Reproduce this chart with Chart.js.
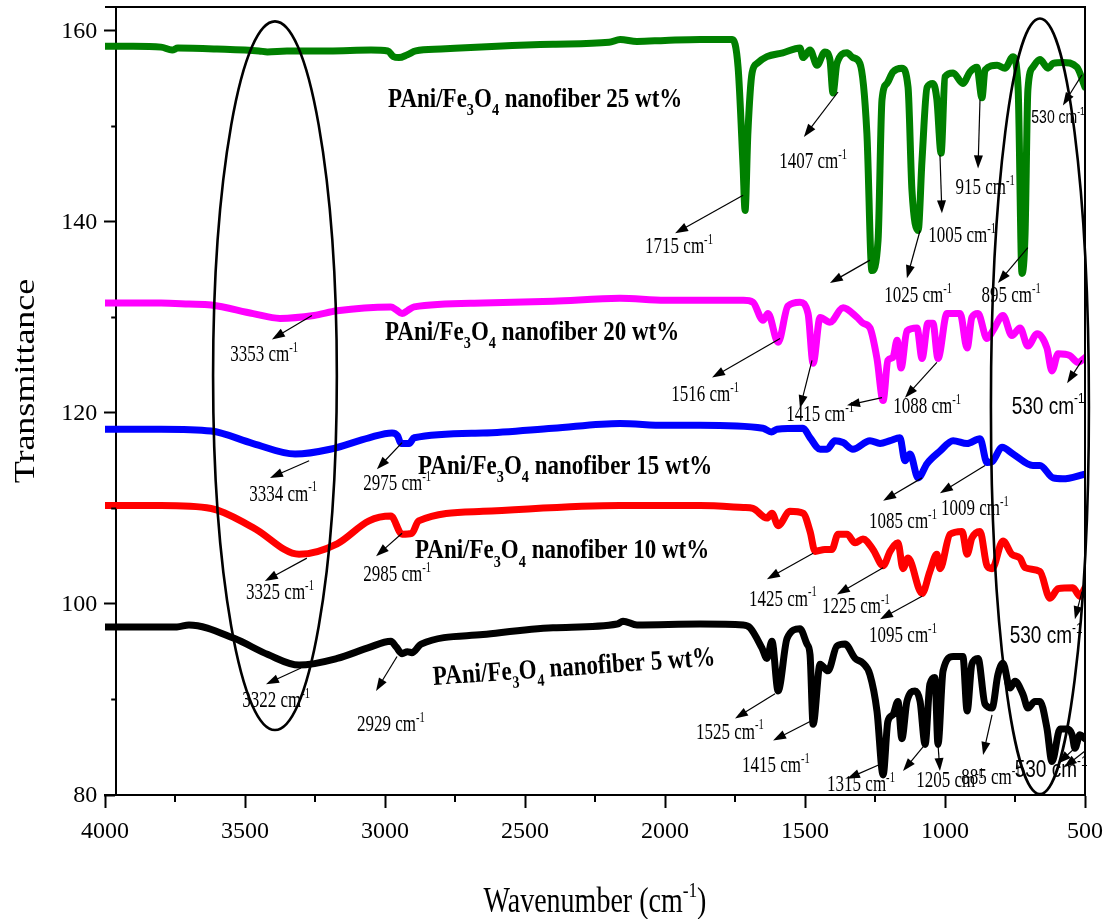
<!DOCTYPE html>
<html>
<head>
<meta charset="utf-8">
<script src="https://cdn.jsdelivr.net/npm/chart.js@4.4.1/dist/chart.umd.min.js"></script>
<style>
  html, body { margin: 0; padding: 0; background: #fff; }
</style>
</head>
<body>
<canvas id="ftir" width="1113" height="919"></canvas>
<script>
// ---- spectra: wavenumber (cm-1) / transmittance ----
const wn25 = [4000, 3900, 3800, 3760, 3740, 3600, 3450, 3420, 3350, 3200, 3050, 2990, 2970, 2950, 2920, 2890, 2800, 2600, 2400, 2200, 2160, 2100, 2000, 1875, 1760,
  1739, 1721, 1714, 1704, 1689, 1671, 1636, 1579, 1518, 1507, 1482, 1457, 1429, 1411, 1400, 1386, 1350, 1329, 1304, 1279, 1261, 1239, 1225, 1207, 1186, 1154, 1132, 1118,
  1096, 1082, 1064, 1043, 1029, 1014, 1000, 971, 936, 911, 886, 868, 857, 814, 786, 757, 739, 725, 714, 704, 686, 661, 632, 614, 579, 529, 500];
const tr25 = [158.4, 158.4, 158.3, 158.0, 158.2, 158.1, 157.9, 157.8, 157.9, 157.9, 158.0, 157.9, 157.3, 157.2, 157.5, 157.9, 158.1, 158.4, 158.6, 158.8, 159.1, 158.9, 159.0, 159.1, 159.1,
  156.2, 145.7, 141.2, 149.3, 155.6, 156.6, 157.3, 157.7, 158.2, 157.2, 158.0, 156.4, 157.8, 157.0, 153.5, 156.6, 157.7, 157.2, 156.6, 149.3, 134.9, 138.1, 152.8, 154.5, 155.7, 156.1, 154.1, 143.3,
  139.1, 146.5, 154.1, 154.5, 152.8, 147.2, 155.2, 155.6, 154.5, 155.7, 156.2, 153.0, 155.9, 156.4, 156.1, 157.3, 154.1, 134.6, 138.8, 153.8, 156.2, 157.0, 156.1, 156.6, 156.7, 156.2, 154.1];

const wn20 = [4000, 3800, 3700, 3621, 3471, 3375, 3254, 3171, 2979, 2960, 2939, 2920, 2896, 2650, 2400, 2161, 2000, 1875, 1720,
  1686, 1650, 1632, 1596, 1561, 1518, 1489, 1471, 1446, 1411, 1364, 1314, 1293, 1268, 1243, 1221, 1204, 1186, 1171, 1157, 1136, 1100,
  1082, 1061, 1043, 1025, 993, 946, 921, 904, 882, 850, 829, 793, 761, 732, 704, 671, 636, 618, 596, 554, 525, 500];
const tr20 = [131.5, 131.5, 131.4, 131.3, 130.4, 129.9, 130.2, 130.7, 131.1, 130.8, 130.4, 130.7, 131.1, 131.5, 131.7, 132.0, 131.8, 131.8, 131.8,
  131.6, 129.7, 130.4, 127.4, 131.2, 131.6, 130.4, 125.2, 130.0, 129.5, 131.0, 130.0, 129.4, 128.9, 125.7, 121.3, 125.5, 125.8, 127.6, 124.7, 128.6, 128.9,
  125.7, 129.4, 129.4, 125.7, 130.4, 130.4, 126.8, 130.0, 130.4, 127.8, 128.6, 130.2, 128.1, 128.9, 127.0, 128.3, 126.8, 124.4, 126.2, 126.0, 125.3, 125.8];

const wn15 = [4000, 3800, 3621, 3471, 3321, 3196, 3057, 2975, 2955, 2943, 2914, 2896, 2650, 2400, 2161, 2000, 1875, 1650, 1620, 1600,
  1507, 1482, 1446, 1421, 1393, 1364, 1329, 1268, 1232, 1196, 1161, 1143, 1125, 1096, 1064, 1018, 971, 921, 875, 850, 832, 796, 757, 686, 661, 614, 579, 500];
const tr15 = [118.3, 118.3, 118.1, 116.8, 115.7, 116.2, 117.4, 117.9, 117.6, 116.8, 116.8, 117.4, 117.9, 118.4, 118.9, 118.7, 118.7, 118.4, 118.0, 118.3,
  118.4, 117.4, 116.2, 116.2, 117.1, 116.9, 116.2, 117.1, 116.8, 117.1, 117.4, 115.0, 115.7, 113.2, 114.7, 116.0, 117.1, 116.8, 117.3, 114.8, 114.9, 116.4, 115.7, 114.5, 114.5, 113.2, 113.1, 113.6];

const wn10 = [4000, 3800, 3621, 3471, 3307, 3171, 3057, 2979, 2939, 2904, 2880, 2650, 2161, 1875, 1720,
  1686, 1636, 1618, 1596, 1554, 1507, 1482, 1464, 1429, 1404, 1382, 1350, 1321, 1293, 1257, 1221, 1196, 1168, 1150, 1132, 1082,
  1054, 1029, 1018, 982, 939, 921, 904, 875, 850, 832, 793, 761, 732, 714, 661, 625, 596, 543, 518, 500];
const tr10 = [110.3, 110.3, 110.0, 108.0, 105.2, 106.3, 108.7, 109.2, 107.3, 107.4, 108.7, 109.7, 110.3, 110.3, 110.1,
  110.0, 109.0, 109.5, 108.2, 109.7, 109.5, 107.6, 105.5, 105.7, 105.7, 107.3, 107.3, 106.4, 106.8, 105.7, 104.0, 105.5, 106.4, 103.7, 104.8, 101.1,
  103.4, 105.2, 103.7, 107.3, 107.6, 105.2, 106.9, 107.6, 104.0, 103.7, 106.6, 105.2, 104.8, 103.8, 103.4, 100.6, 101.6, 101.7, 100.8, 101.7];

const wn5 = [4000, 3743, 3700, 3539, 3418, 3307, 3171, 3061, 2979, 2960, 2939, 2920, 2904, 2871, 2650, 2400, 2170, 2150, 2100, 1875, 1720,
  1696, 1654, 1636, 1618, 1596, 1564, 1518, 1493, 1482, 1471, 1446, 1418, 1386, 1357, 1321, 1293, 1268, 1243, 1221, 1204, 1186, 1168, 1154, 1136,
  1107, 1089, 1071, 1054, 1036, 1025, 1007, 971, 936, 921, 904, 882, 857, 832, 811, 793, 768, 750, 721, 704, 679, 661, 636, 618, 589, 564, 546, 536, 518, 500];
const tr5 = [97.6, 97.6, 97.8, 96.4, 94.7, 93.6, 94.3, 95.4, 96.1, 95.5, 94.8, 95.0, 94.9, 95.8, 96.8, 97.5, 97.9, 98.2, 97.8, 97.9, 97.8,
  97.5, 95.4, 94.3, 96.1, 90.9, 96.4, 97.4, 95.8, 94.7, 87.4, 93.7, 93.0, 95.6, 95.8, 94.3, 93.8, 92.6, 88.8, 82.1, 87.7, 88.4, 89.8, 85.9, 89.8,
  90.9, 89.8, 85.3, 91.6, 92.3, 85.3, 93.0, 94.5, 94.5, 88.8, 93.7, 94.3, 89.5, 89.1, 92.6, 93.8, 91.2, 91.9, 90.5, 89.1, 89.8, 89.8, 87.0, 83.5, 86.9, 86.9, 86.3, 84.9, 86.3, 85.9];

const xTicks = [4000, 3500, 3000, 2500, 2000, 1500, 1000, 500];
const yTicks = [80, 100, 120, 140, 160];

// ---- annotations, placed in data units (wavenumber, transmittance) ----
const seriesNotes = [
  ['PAni/Fe_{3}O_{4} nanofiber 25 wt%', 2989, 153.0, 0],
  ['PAni/Fe_{3}O_{4} nanofiber 20 wt%', 3000, 128.6, 0],
  ['PAni/Fe_{3}O_{4} nanofiber 15 wt%', 2882, 114.6, 0],
  ['PAni/Fe_{3}O_{4} nanofiber 10 wt%', 2893, 105.75, 0],
  ['PAni/Fe_{3}O_{4} nanofiber 5 wt%', 2829, 92.5, -4]
];

const peakNotes = [
  ['1715', 1950, 137.5], ['1407', 1471, 146.4], ['1025', 1096, 132.4], ['1005', 939, 138.7],
  ['915', 857, 143.7], ['895', 764, 132.4], ['3353', 3432, 126.2], ['3334', 3364, 111.6],
  ['2975', 2957, 112.7], ['1516', 1857, 122.0], ['1415', 1446, 119.9], ['1088', 1064, 120.8],
  ['1085', 1150, 108.7], ['1009', 893, 110.1], ['3325', 3375, 101.3], ['2985', 2957, 103.2],
  ['1425', 1579, 100.6], ['1225', 1318, 99.8], ['1095', 1150, 96.8], ['3322', 3389, 90.0],
  ['2929', 2979, 87.5], ['1525', 1768, 86.7], ['1415', 1604, 83.2], ['1315', 1300, 81.2],
  ['1205', 982, 81.6], ['885', 836, 81.9]
];

// the 530 cm-1 notes are set in a sans face; the first one is smaller
const feNotes = [[596, 151.0, 14], [632, 120.8, 19], [639, 96.8, 19], [621, 82.8, 19]];

// [from wn, from T, to wn, to T] -- arrowhead at "to"
const arrows = [
  [1721, 142.8, 1964, 138.8], [1382, 153.6, 1504, 148.9], [1268, 136.0, 1411, 133.6], [1089, 139.1, 1136, 134.1],
  [1018, 147.0, 1011, 140.9], [875, 152.8, 882, 145.6], [704, 137.3, 811, 133.6], [511, 155.4, 579, 152.2],
  [3261, 130.2, 3404, 127.7], [3271, 115.0, 3411, 113.2], [2939, 116.9, 3029, 114.1], [1589, 127.8, 1832, 123.7],
  [1475, 125.5, 1518, 120.5], [1225, 121.6, 1350, 120.8], [1029, 125.3, 1143, 121.6], [511, 125.5, 564, 123.1],
  [1082, 113.2, 1221, 110.8], [857, 114.5, 1018, 111.6], [3279, 104.8, 3429, 102.4], [2939, 107.4, 3032, 105.0],
  [1471, 105.3, 1636, 102.6], [1221, 103.8, 1386, 101.0], [1082, 100.8, 1232, 98.4], [511, 101.3, 536, 98.4],
  [3300, 93.3, 3425, 91.6], [2957, 94.5, 3032, 90.9], [1607, 90.6, 1750, 88.0], [1482, 87.7, 1614, 85.7],
  [1225, 83.3, 1350, 81.7], [1071, 85.3, 1150, 82.5], [1025, 85.3, 1018, 82.5], [832, 88.4, 864, 84.2],
  [518, 85.4, 596, 83.3], [500, 84.6, 575, 82.9]
];

// [centre wn, centre T, half-width wn, half-height T]
const ellipses = [[3393, 123.9, 221, 37.1], [661, 120.7, 175, 40.6]];

const SERIF = '"Liberation Serif", "Times New Roman", serif';
const SANS = '"Liberation Sans", Arial, sans-serif';
const Y_AXIS_AT = 3960;   // the left axis sits a little inside the 4000 tick

function pts(xs, ys) {
  return xs.map((x, i) => ({ x, y: ys[i] }));
}

// splits "Fe_{3}O_{4}" / "cm^{-1}" into normal / sub / sup runs
function richParts(str) {
  const parts = [];
  const re = /([_^])\{([^}]*)\}/g;
  let last = 0, m;
  while ((m = re.exec(str))) {
    if (m.index > last) parts.push({ t: str.slice(last, m.index), k: '' });
    parts.push({ t: m[2], k: m[1] });
    last = re.lastIndex;
  }
  if (last < str.length) parts.push({ t: str.slice(last), k: '' });
  return parts;
}

function drawRich(ctx, str, x, y, o) {
  const parts = richParts(str);
  const font = s => `${o.weight || 'normal'} ${s}px ${o.family}`;
  const small = o.size * 0.62;
  let w = 0;
  parts.forEach(p => {
    ctx.font = font(p.k ? small : o.size);
    p.w = ctx.measureText(p.t).width;
    w += p.w;
  });
  ctx.save();
  ctx.translate(x, y);
  if (o.rot) ctx.rotate(o.rot * Math.PI / 180);
  ctx.scale(o.sx || 1, o.sy || 1);
  ctx.fillStyle = '#000';
  ctx.textBaseline = 'alphabetic';
  ctx.textAlign = 'left';
  let cx = o.align === 'left' ? 0 : (o.align === 'right' ? -w : -w / 2);
  const base = o.size * 0.34;
  parts.forEach(p => {
    ctx.font = font(p.k ? small : o.size);
    const dy = p.k === '_' ? o.size * 0.3 : (p.k === '^' ? -o.size * 0.42 : 0);
    ctx.fillText(p.t, cx, base + dy);
    cx += p.w;
  });
  ctx.restore();
}

function drawArrow(ctx, x1, y1, x2, y2) {
  const ang = Math.atan2(y2 - y1, x2 - x1);
  const len = 13, half = 4.5;
  ctx.beginPath();
  ctx.moveTo(x1, y1);
  ctx.lineTo(x2 - Math.cos(ang) * len * 0.8, y2 - Math.sin(ang) * len * 0.8);
  ctx.stroke();
  ctx.beginPath();
  ctx.moveTo(x2, y2);
  ctx.lineTo(x2 - Math.cos(ang) * len + Math.sin(ang) * half, y2 - Math.sin(ang) * len - Math.cos(ang) * half);
  ctx.lineTo(x2 - Math.cos(ang) * len - Math.sin(ang) * half, y2 - Math.sin(ang) * len + Math.cos(ang) * half);
  ctx.closePath();
  ctx.fill();
}

const notesPlugin = {
  id: 'notes',
  afterDraw(chart) {
    const { ctx, chartArea: a } = chart;
    const xs = chart.scales.x, ys = chart.scales.y;
    const px = w => xs.getPixelForValue(w);
    const py = t => ys.getPixelForValue(t);
    const axisX = px(Y_AXIS_AT);

    ctx.save();
    // frame: top and right edges
    ctx.strokeStyle = '#000';
    ctx.lineWidth = 2;
    ctx.beginPath();
    ctx.moveTo(a.left, a.top);
    ctx.lineTo(a.right, a.top);
    ctx.lineTo(a.right, a.bottom);
    ctx.stroke();

    // minor ticks (shorter than the major ones drawn by the scales)
    ctx.beginPath();
    for (let v = 3750; v > 500; v -= 500) {
      ctx.moveTo(px(v), a.bottom);
      ctx.lineTo(px(v), a.bottom + 7);
    }
    for (let v = 90; v < 160; v += 20) {
      ctx.moveTo(axisX - 5, py(v));
      ctx.lineTo(axisX, py(v));
    }
    ctx.stroke();

    // y tick labels
    ctx.fillStyle = '#000';
    ctx.font = `24px ${SERIF}`;
    ctx.textAlign = 'right';
    ctx.textBaseline = 'middle';
    yTicks.forEach(v => ctx.fillText(String(v), axisX - 19, py(v) + 1));

    // ellipses around the O-H / Fe-O regions
    ctx.lineWidth = 2.6;
    ellipses.forEach(([w, t, dw, dt]) => {
      const cx = px(w), cy = py(t);
      const rx = Math.abs(px(w - dw) - cx), ry = Math.abs(py(t - dt) - cy);
      ctx.beginPath();
      ctx.ellipse(cx, cy, rx, ry, 0, 0, Math.PI * 2);
      ctx.stroke();
    });

    // arrows
    ctx.lineWidth = 1.2;
    arrows.forEach(([w1, t1, w2, t2]) => drawArrow(ctx, px(w1), py(t1), px(w2), py(t2)));

    // text
    seriesNotes.forEach(([txt, w, t, rot]) => {
      drawRich(ctx, txt, px(w), py(t), { size: 23, family: SERIF, weight: 'bold', sy: 1.2, align: 'left', rot });
    });
    peakNotes.forEach(([num, w, t]) => {
      drawRich(ctx, num + ' cm^{-1}', px(w), py(t), { size: 17, family: SERIF, sy: 1.3 });
    });
    feNotes.forEach(([w, t, size]) => {
      drawRich(ctx, '530 cm^{-1}', px(w), py(t), { size, family: SANS, sy: 1.3 });
    });

    // axis titles
    drawRich(ctx, 'Wavenumber (cm^{-1})', (a.left + a.right) / 2, 900, { size: 28, family: SERIF, sy: 1.25 });
    drawRich(ctx, 'Transmittance', 24, 381, { size: 30, family: SERIF, rot: -90, sx: 1.2 });
    ctx.restore();
  }
};

const line = (data, color) => ({
  data,
  borderColor: color,
  borderWidth: 7,
  pointRadius: 0,
  cubicInterpolationMode: 'monotone',
  fill: false,
  borderJoinStyle: 'round',
  borderCapStyle: 'round'
});

new Chart(document.getElementById('ftir'), {
  type: 'line',
  data: {
    datasets: [
      line(pts(wn25, tr25), '#008000'),
      line(pts(wn20, tr20), '#ff00ff'),
      line(pts(wn15, tr15), '#0000ff'),
      line(pts(wn10, tr10), '#ff0000'),
      line(pts(wn5, tr5), '#000000')
    ]
  },
  options: {
    responsive: false,
    animation: false,
    layout: { padding: { left: 105, right: 28, top: 7, bottom: 0 } },
    plugins: { legend: { display: false }, tooltip: { enabled: false } },
    scales: {
      x: {
        type: 'linear',
        reverse: true,
        min: 500,
        max: 4000,
        afterFit: s => { s.height = 124; s.paddingLeft = 0; s.paddingRight = 0; },
        afterBuildTicks: s => { s.ticks = xTicks.map(value => ({ value })); },
        ticks: {
          autoSkip: false,
          maxRotation: 0,
          padding: 9,
          color: '#000',
          font: { family: SERIF, size: 24 },
          callback: v => String(v)
        },
        grid: { drawOnChartArea: false, tickLength: 13, tickWidth: 2, color: '#000' },
        border: { color: '#000', width: 2 }
      },
      y: {
        min: 80,
        max: 162.5,
        position: { x: Y_AXIS_AT },
        afterFit: s => { s.paddingTop = 0; s.paddingBottom = 0; },
        afterBuildTicks: s => { s.ticks = yTicks.map(value => ({ value })); },
        ticks: { display: false },
        grid: { drawOnChartArea: false, tickLength: 11, tickWidth: 2, color: '#000' },
        border: { color: '#000', width: 2 }
      }
    }
  },
  plugins: [notesPlugin]
});
</script>
</body>
</html>
